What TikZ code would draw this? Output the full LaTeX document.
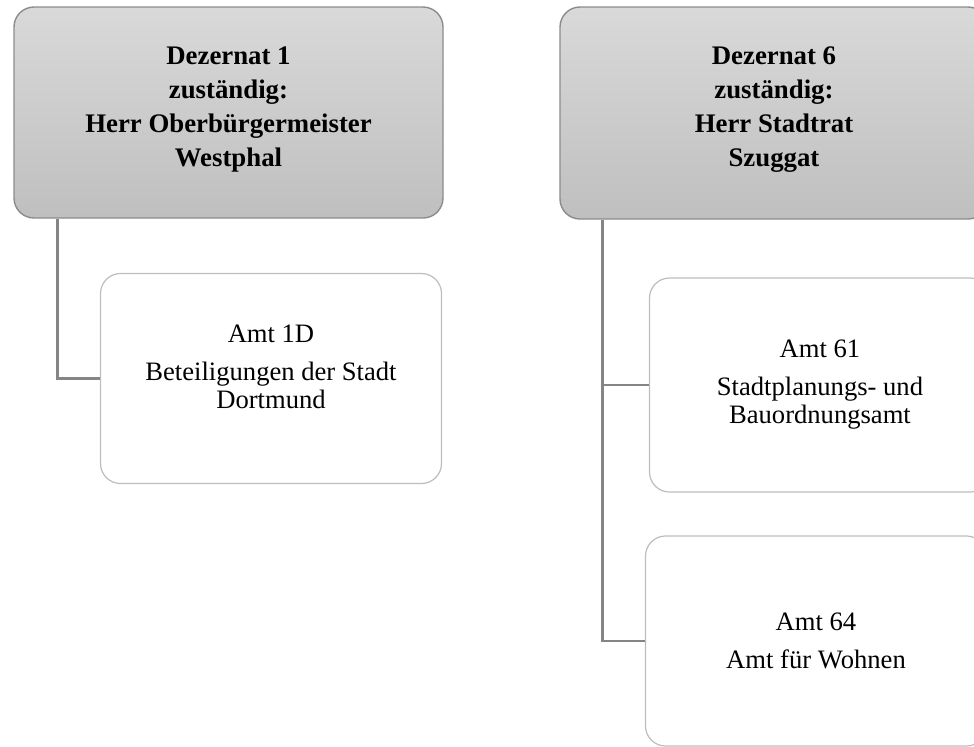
\documentclass[tikz,border=0pt]{standalone}
\usepackage{fontspec}
\setmainfont{Liberation Serif}
\definecolor{headtop}{HTML}{D9D9D9}
\definecolor{headbot}{HTML}{BFBFBF}
\definecolor{headrand}{HTML}{8C8C8C}
\definecolor{amtrand}{HTML}{BDBDBD}
\definecolor{astgrau}{HTML}{858585}
\begin{document}
\begin{tikzpicture}[x=0.5pt,y=-0.5pt,
  dezernat/.style={draw=headrand, line width=0.7pt, rounded corners=10pt,
    top color=headtop, bottom color=headbot, align=center, inner sep=0pt,
    font=\bfseries\fontsize{13.4}{17}\selectfont},
  amt/.style={draw=amtrand, line width=0.6pt, fill=white, rounded corners=10pt,
    align=center, inner sep=0pt, minimum width=170.5pt, minimum height=105pt,
    font=\fontsize{13.3}{14}\selectfont},
  ast/.style={draw=astgrau, line width=1.3pt}]
  \useasboundingbox (0,0) rectangle (974,746);
  \clip (0,0) rectangle (974,746);
  % Dezernat 1
  \node[dezernat, minimum width=214.5pt, minimum height=105.5pt]
    (dez1) at (228.5,112.5)
    {Dezernat 1\\zuständig:\\Herr Oberbürgermeister\\Westphal\\[-11pt]\mbox{}};
  \node[amt] (amt1d) at (271,378.5)
    {Amt 1D\\[5pt]Beteiligungen der Stadt\\Dortmund\\[-2pt]\mbox{}};
  \draw[ast]
    ([xshift=22pt]dez1.south west)
    |-
    (amt1d.west);
  % Dezernat 6
  \node[dezernat, minimum width=214pt, minimum height=106pt]
    (dez6) at (774,113)
    {Dezernat 6\\zuständig:\\Herr Stadtrat\\Szuggat\\[-11pt]\mbox{}};
  \node[amt, minimum height=107pt] (amt61) at (820,385)
    {Amt 61\\[5pt]Stadtplanungs- und\\Bauordnungsamt};
  \node[amt] (amt64) at (816,641)
    {Amt 64\\[5pt]Amt für Wohnen};
  \draw[ast]
    ([xshift=21.5pt]dez6.south west)
    |-
    (amt61.west);
  \draw[ast]
    ([xshift=21.5pt]dez6.south west)
    |-
    (amt64.west);
\end{tikzpicture}
\end{document}
